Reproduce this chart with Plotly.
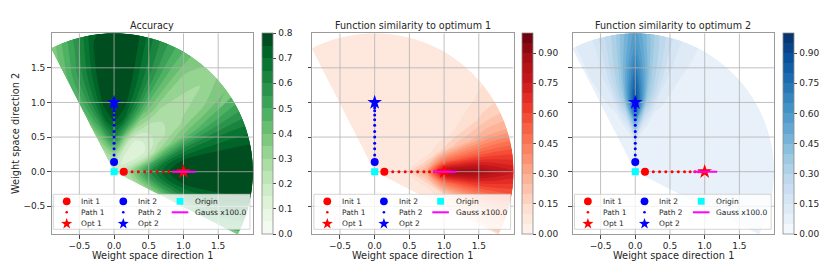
import numpy as np
import plotly.graph_objects as go
import plotly.colors as pc

# ---------------- data ----------------
radii = [0.0, 0.25, 0.5, 0.75, 1.0, 1.25, 1.5, 1.75, 2.0]
angles_deg = [-27, -18, -9, 0, 9, 18, 27, 36, 45, 54, 63, 72, 81, 90, 99, 108, 117]

# rows = radii, columns = angles
accuracy = [
    [0.18, 0.18, 0.18, 0.18, 0.18, 0.18, 0.18, 0.18, 0.18, 0.18, 0.18, 0.18, 0.18, 0.18, 0.18, 0.18, 0.18],
    [0.26, 0.29, 0.31, 0.32, 0.28, 0.22, 0.17, 0.14, 0.13, 0.14, 0.17, 0.22, 0.28, 0.32, 0.31, 0.29, 0.26],
    [0.32, 0.44, 0.54, 0.58, 0.50, 0.32, 0.18, 0.13, 0.12, 0.13, 0.19, 0.34, 0.52, 0.60, 0.54, 0.42, 0.32],
    [0.38, 0.56, 0.69, 0.74, 0.68, 0.50, 0.30, 0.22, 0.20, 0.22, 0.32, 0.54, 0.71, 0.76, 0.70, 0.54, 0.40],
    [0.44, 0.63, 0.76, 0.79, 0.76, 0.60, 0.38, 0.27, 0.25, 0.29, 0.42, 0.62, 0.77, 0.79, 0.76, 0.60, 0.44],
    [0.47, 0.66, 0.78, 0.79, 0.78, 0.64, 0.44, 0.31, 0.27, 0.31, 0.45, 0.64, 0.78, 0.79, 0.77, 0.61, 0.45],
    [0.48, 0.67, 0.78, 0.79, 0.78, 0.66, 0.48, 0.34, 0.28, 0.33, 0.47, 0.64, 0.78, 0.79, 0.77, 0.60, 0.44],
    [0.46, 0.65, 0.78, 0.79, 0.78, 0.67, 0.51, 0.37, 0.30, 0.35, 0.48, 0.63, 0.78, 0.79, 0.76, 0.56, 0.40],
    [0.42, 0.62, 0.77, 0.79, 0.78, 0.67, 0.53, 0.40, 0.33, 0.37, 0.49, 0.62, 0.78, 0.79, 0.74, 0.53, 0.36],
]

sim_opt1 = [
    [0.06, 0.06, 0.06, 0.06, 0.06, 0.06, 0.06, 0.06, 0.06, 0.06, 0.06, 0.06, 0.06, 0.06, 0.06, 0.06, 0.06],
    [0.06, 0.06, 0.06, 0.07, 0.06, 0.06, 0.06, 0.06, 0.06, 0.06, 0.06, 0.06, 0.06, 0.06, 0.06, 0.06, 0.06],
    [0.06, 0.06, 0.08, 0.12, 0.08, 0.06, 0.06, 0.06, 0.06, 0.06, 0.06, 0.06, 0.06, 0.06, 0.06, 0.06, 0.06],
    [0.06, 0.08, 0.18, 0.32, 0.18, 0.08, 0.06, 0.06, 0.06, 0.06, 0.06, 0.06, 0.06, 0.06, 0.06, 0.06, 0.06],
    [0.07, 0.14, 0.45, 0.88, 0.45, 0.15, 0.08, 0.06, 0.06, 0.06, 0.06, 0.06, 0.06, 0.06, 0.06, 0.06, 0.06],
    [0.09, 0.20, 0.52, 0.92, 0.52, 0.22, 0.10, 0.07, 0.06, 0.06, 0.06, 0.06, 0.06, 0.06, 0.06, 0.06, 0.06],
    [0.11, 0.24, 0.55, 0.90, 0.55, 0.26, 0.13, 0.08, 0.06, 0.06, 0.06, 0.06, 0.06, 0.06, 0.06, 0.06, 0.06],
    [0.13, 0.28, 0.56, 0.82, 0.56, 0.30, 0.16, 0.10, 0.07, 0.06, 0.06, 0.06, 0.06, 0.06, 0.06, 0.06, 0.06],
    [0.14, 0.30, 0.56, 0.76, 0.56, 0.30, 0.17, 0.11, 0.08, 0.06, 0.06, 0.06, 0.06, 0.06, 0.06, 0.06, 0.06],
]

sim_opt2 = [
    [0.06, 0.06, 0.06, 0.06, 0.06, 0.06, 0.06, 0.06, 0.06, 0.06, 0.06, 0.06, 0.06, 0.06, 0.06, 0.06, 0.06],
    [0.06, 0.06, 0.06, 0.06, 0.06, 0.06, 0.06, 0.06, 0.06, 0.06, 0.06, 0.06, 0.06, 0.07, 0.06, 0.06, 0.06],
    [0.06, 0.06, 0.06, 0.06, 0.06, 0.06, 0.06, 0.06, 0.06, 0.06, 0.06, 0.06, 0.07, 0.18, 0.07, 0.06, 0.06],
    [0.06, 0.06, 0.06, 0.06, 0.06, 0.06, 0.06, 0.06, 0.06, 0.06, 0.06, 0.07, 0.20, 0.58, 0.20, 0.07, 0.06],
    [0.06, 0.06, 0.06, 0.06, 0.06, 0.06, 0.06, 0.06, 0.06, 0.06, 0.07, 0.12, 0.35, 0.93, 0.35, 0.12, 0.07],
    [0.06, 0.06, 0.06, 0.06, 0.06, 0.06, 0.06, 0.06, 0.06, 0.06, 0.08, 0.15, 0.38, 0.84, 0.38, 0.15, 0.08],
    [0.06, 0.06, 0.06, 0.06, 0.06, 0.06, 0.06, 0.06, 0.06, 0.06, 0.09, 0.16, 0.36, 0.72, 0.36, 0.16, 0.09],
    [0.06, 0.06, 0.06, 0.06, 0.06, 0.06, 0.06, 0.06, 0.06, 0.07, 0.10, 0.16, 0.34, 0.63, 0.34, 0.15, 0.09],
    [0.06, 0.06, 0.06, 0.06, 0.06, 0.06, 0.06, 0.06, 0.06, 0.07, 0.10, 0.16, 0.32, 0.58, 0.32, 0.15, 0.09],
]

init1_x = [0.14]
init1_y = [0.0]
path1_x = [0.26, 0.35, 0.44, 0.53, 0.62, 0.71, 0.79, 0.86, 0.91, 0.95, 0.98, 0.99]
path1_y = [0.0, 0.0, 0.0, 0.0, 0.0, 0.0, 0.0, 0.0, 0.0, 0.0, 0.0, 0.0]
opt1_x = [1.0]
opt1_y = [0.0]
init2_x = [0.0]
init2_y = [0.14]
path2_x = [0.0, 0.0, 0.0, 0.0, 0.0, 0.0, 0.0, 0.0, 0.0, 0.0, 0.0, 0.0, 0.0, 0.0, 0.0]
path2_y = [0.24, 0.33, 0.41, 0.50, 0.58, 0.67, 0.75, 0.82, 0.88, 0.92, 0.95, 0.97, 0.98, 0.99, 1.0]
opt2_x = [0.0]
opt2_y = [1.0]
origin_x = [0.0]
origin_y = [0.0]
gauss_x = [0.84, 1.18]
gauss_y = [0.0, 0.0]

panel_titles = ["Accuracy", "Function similarity to optimum 1", "Function similarity to optimum 2"]
panel_fields = [accuracy, sim_opt1, sim_opt2]
panel_zmax = [0.8, 1.0, 1.0]
panel_cbticks = [[0.0, 0.1, 0.2, 0.3, 0.4, 0.5, 0.6, 0.7, 0.8],
                 [0.0, 0.15, 0.30, 0.45, 0.60, 0.75, 0.90],
                 [0.0, 0.15, 0.30, 0.45, 0.60, 0.75, 0.90]]
panel_cbformat = [".1f", ".2f", ".2f"]
panel_scales = [pc.sequential.Greens, pc.sequential.Reds, pc.sequential.Blues]
axis_ticks = [-0.5, 0.0, 0.5, 1.0, 1.5]
axis_range = [-0.9, 2.0]
xlabel = "Weight space direction 1"
ylabel = "Weight space direction 2"

# legend entries: (label, key kind, colour); columns of the legend
legend_cols = [
    [("Init 1", "circle", "red"), ("Path 1", "dot", "red"), ("Opt 1", "star", "red")],
    [("Init 2", "circle", "blue"), ("Path 2", "dot", "blue"), ("Opt 2", "star", "blue")],
    [("Origin", "square", "cyan"), ("Gauss x100.0", "line", "magenta")],
]

# ---------------- layout geometry (pixels of the 830x262 window) ----------------
WIN_W, WIN_H = 830, 262
OFF = 8                      # default page margin of the html body
W, H = WIN_W - OFF, WIN_H - OFF
PLOT_L = [51.6, 312.2, 572.8]
PLOT_W = 201.3
PLOT_T, PLOT_B = 33.2, 234.0
CB_GAP, CB_THICK = 8.7, 11.3
FONT = "DejaVu Sans"
TXT = "#262626"


def fx(px):
    return (px - OFF) / W


def fy(py):
    return 1 - (py - OFF) / H


def star_path(ro, ri):
    pts = []
    for k in range(10):
        ang = np.pi / 2 + k * np.pi / 5
        rad = ro if k % 2 == 0 else ri
        pts.append("%.2f,%.2f" % (rad * np.cos(ang), rad * np.sin(ang)))
    return "M" + " L".join(pts) + " Z"


STAR = star_path(5.8, 2.3)

# polar carpet grid (coordinate system of the fan)
R, TH = np.meshgrid(np.array(radii), np.radians(np.array(angles_deg)))
carpet_x = (R * np.cos(TH)).tolist()
carpet_y = (R * np.sin(TH)).tolist()

hidden_axis = dict(showgrid=False, showline=False, showticklabels="none",
                   startline=False, endline=False, minorgridcount=0,
                   gridcolor="rgba(0,0,0,0)", linecolor="rgba(0,0,0,0)")

fig = go.Figure()
annotations = []
shapes = []
layout_axes = {}

for i in range(3):
    sx = "" if i == 0 else str(i + 1)
    xa, ya = "x" + sx, "y" + sx
    L = PLOT_L[i]
    Rr = L + PLOT_W
    cid = "c%d" % i

    fig.add_trace(go.Carpet(
        carpet=cid, a=radii, b=angles_deg, x=carpet_x, y=carpet_y,
        xaxis=xa, yaxis=ya,
        aaxis=dict(hidden_axis, smoothing=0),
        baxis=dict(hidden_axis, smoothing=1),
    ))
    z = np.array(panel_fields[i]).T.tolist()
    zmax = panel_zmax[i]
    fig.add_trace(go.Contourcarpet(
        carpet=cid, a=radii, b=angles_deg, z=z, xaxis=xa, yaxis=ya,
        colorscale=pc.make_colorscale(panel_scales[i]),
        zmin=0, zmax=zmax, autocontour=False,
        contours=dict(start=0, end=zmax, size=0.05, coloring="fill", showlines=False),
        line=dict(width=0),
        colorbar=dict(
            x=fx(Rr + CB_GAP), xanchor="left", xref="paper",
            y=fy(PLOT_B), yanchor="bottom", len=(PLOT_B - PLOT_T) / H, lenmode="fraction",
            thickness=CB_THICK, thicknessmode="pixels", xpad=0, ypad=0,
            outlinecolor="#8a8a8a", outlinewidth=0.8,
            tickmode="array", tickvals=panel_cbticks[i], tickformat=panel_cbformat[i],
            ticks="outside", ticklen=3.5, tickwidth=0.8, tickcolor="#444444",
            tickfont=dict(family=FONT, size=9, color=TXT),
        ),
    ))

    # grid lines drawn above the filled contours (from the tick list and axis range)
    gx, gy = [], []
    for v in axis_ticks:
        gx += [v, v, None]
        gy += [axis_range[0], axis_range[1], None]
        gx += [axis_range[0], axis_range[1], None]
        gy += [v, v, None]
    fig.add_trace(go.Scatter(x=gx, y=gy, mode="lines", xaxis=xa, yaxis=ya,
                             line=dict(color="#b0b0b0", width=0.8),
                             hoverinfo="skip", showlegend=False))

    def mk(name, xs, ys, **kw):
        fig.add_trace(go.Scatter(name=name, x=xs, y=ys, xaxis=xa, yaxis=ya,
                                 showlegend=False, hoverinfo="skip", **kw))

    mk("Init 1", init1_x, init1_y, mode="markers", marker=dict(color="red", size=8, symbol="circle"))
    mk("Path 1", path1_x, path1_y, mode="markers", marker=dict(color="red", size=3, symbol="circle"))
    mk("Opt 1", opt1_x, opt1_y, mode="markers", marker=dict(color="red", size=11, symbol="star"))
    mk("Init 2", init2_x, init2_y, mode="markers", marker=dict(color="blue", size=8, symbol="circle"))
    mk("Path 2", path2_x, path2_y, mode="markers", marker=dict(color="blue", size=3, symbol="circle"))
    mk("Opt 2", opt2_x, opt2_y, mode="markers", marker=dict(color="blue", size=11, symbol="star"))
    mk("Origin", origin_x, origin_y, mode="markers", marker=dict(color="cyan", size=7, symbol="square"))
    mk("Gauss x100.0", gauss_x, gauss_y, mode="lines", line=dict(color="magenta", width=2))

    axcommon = dict(range=axis_range, tickmode="array", tickvals=axis_ticks, tickformat=".1f",
                    showgrid=False, zeroline=False, showline=True, mirror=True,
                    linecolor="#9a9a9a", linewidth=1,
                    ticks="outside", ticklen=3.5, tickwidth=0.8, tickcolor="#444444",
                    tickfont=dict(family=FONT, size=9, color=TXT))
    layout_axes["xaxis" + sx] = dict(axcommon, domain=[fx(L), fx(Rr)], anchor=ya)
    layout_axes["yaxis" + sx] = dict(axcommon, domain=[fy(PLOT_B), fy(PLOT_T)], anchor=xa,
                                     showticklabels=(i == 0))

    # panel title and x-axis title
    cx = L + PLOT_W / 2
    annotations.append(dict(text=panel_titles[i], x=fx(cx), y=fy(26), xref="paper", yref="paper",
                            xanchor="center", yanchor="middle", showarrow=False,
                            font=dict(family=FONT, size=9.6, color=TXT)))
    annotations.append(dict(text=xlabel, x=fx(cx), y=fy(255.3), xref="paper", yref="paper",
                            xanchor="center", yanchor="middle", showarrow=False,
                            font=dict(family=FONT, size=9.8, color=TXT)))

    # legend box
    shapes.append(dict(type="rect", xref="paper", yref="paper", layer="above",
                       x0=fx(L + 1.7), x1=fx(L + 198.4), y0=fy(PLOT_B - 4.7), y1=fy(PLOT_B - 39.7),
                       fillcolor="rgba(255,255,255,0.8)", line=dict(color="#cccccc", width=0.8)))
    row_py = [201.3, 212.3, 223.7]
    col_mark = [15.1, 71.7, 128.4]
    col_text = [28.7, 85.5, 142.4]
    for c, col in enumerate(legend_cols):
        for r, (label, kind, color) in enumerate(col):
            ax_ = fx(L + col_mark[c])
            ay_ = fy(row_py[r])
            pix = dict(xref="paper", yref="paper", layer="above", xsizemode="pixel", ysizemode="pixel",
                       xanchor=ax_, yanchor=ay_)
            if kind == "line":
                shapes.append(dict(type="line", xref="paper", yref="paper", layer="above",
                                   x0=fx(L + col_mark[c] - 8.3), x1=fx(L + col_mark[c] + 8.3),
                                   y0=ay_, y1=ay_, line=dict(color=color, width=2)))
            elif kind == "circle":
                shapes.append(dict(pix, type="circle", x0=-3.9, x1=3.9, y0=-3.9, y1=3.9,
                                   fillcolor=color, line=dict(width=0)))
            elif kind == "dot":
                shapes.append(dict(pix, type="circle", x0=-1.3, x1=1.3, y0=-1.3, y1=1.3,
                                   fillcolor=color, line=dict(width=0)))
            elif kind == "square":
                shapes.append(dict(pix, type="rect", x0=-3.4, x1=3.4, y0=-3.4, y1=3.4,
                                   fillcolor=color, line=dict(width=0)))
            elif kind == "star":
                shapes.append(dict(pix, type="path", path=STAR,
                                   fillcolor=color, line=dict(width=0)))
            annotations.append(dict(text=label, x=fx(L + col_text[c]), y=ay_,
                                    xref="paper", yref="paper", xanchor="left", yanchor="middle",
                                    showarrow=False, borderpad=0,
                                    font=dict(family=FONT, size=7.5, color=TXT)))

annotations.append(dict(text=ylabel, x=fx(15.5), y=fy((PLOT_T + PLOT_B) / 2), xref="paper", yref="paper",
                        xanchor="center", yanchor="middle", textangle=-90, showarrow=False,
                        font=dict(family=FONT, size=9.8, color=TXT)))

fig.update_layout(
    width=W, height=H, margin=dict(l=0, r=0, t=0, b=0),
    paper_bgcolor="white", plot_bgcolor="white",
    font=dict(family=FONT, color=TXT),
    showlegend=False, hovermode=False,
    annotations=annotations, shapes=shapes,
    **layout_axes,
)

fig.write_html("out.html")
